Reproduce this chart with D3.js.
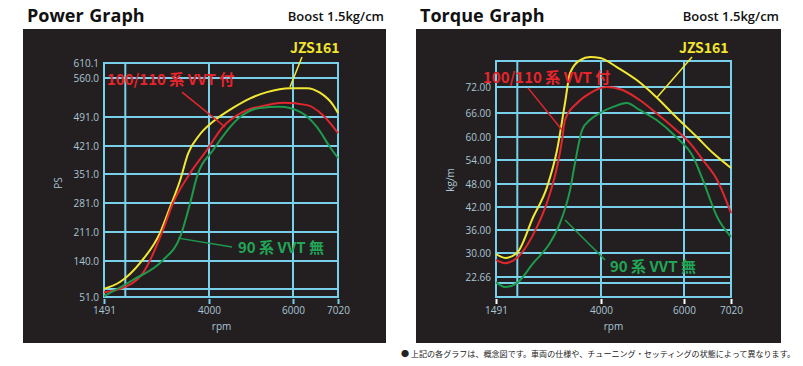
<!DOCTYPE html>
<html>
<head>
<meta charset="utf-8">
<script src="https://cdn.jsdelivr.net/npm/d3@7"></script>
<style>
  body { margin: 0; background: #fff; }
  svg { display: block; }
</style>
</head>
<body>
<div id="corpo"></div>
<script>
// ==== dados ====
var rpmTicks = [1491, 4000, 6000, 7020];
var rpmGrid = [2000, 4000, 6000];

var psTicks = [51.0, 140.0, 211.0, 281.0, 351.0, 421.0, 491.0, 560.0, 610.1];
var psExtraGrid = [71];
var kgTicks = [22.66, 30, 36, 42, 48, 54, 60, 66, 72];
var kgExtraGrid = [20.8];

// Power (PS)
var powerJzsRpm = [1491, 1870, 2350, 2830, 3070, 3310, 3500, 3790, 4100, 4570, 4980, 5380, 5930, 6320, 6610, 6910, 7020];
var powerJzs    = [71, 88, 135, 209, 271, 336, 402, 450, 480, 507, 524, 535, 542, 542, 534, 512, 498];
var powerVvtRpm = [1491, 1870, 2420, 2900, 3140, 3550, 3950, 4330, 4810, 5380, 5760, 6320, 6680, 7020];
var powerVvt    = [63, 71, 110, 216, 281, 353, 411, 467, 500, 512, 516, 512, 494, 452];
var powerNonRpm = [1491, 2180, 2900, 3310, 3550, 3710, 4100, 4740, 5210, 5690, 6160, 6540, 6840, 7020];
var powerNon    = [53, 93, 142, 199, 281, 344, 411, 491, 507, 509, 500, 467, 418, 391];

// Torque (kg/m)
var torqueJzsRpm = [1491, 1710, 1990, 2380, 2710, 2950, 3140, 3260, 3500, 3740, 3980, 4380, 4860, 5330, 5810, 6280, 6630, 7020];
var torqueJzs    = [29.7, 28.5, 30, 39.4, 47.2, 56.6, 68.3, 75.2, 78.2, 78.9, 78.7, 76.6, 73.6, 69.7, 65.0, 60, 55.8, 52];
var torqueVvtRpm = [1491, 1710, 1990, 2470, 2730, 2950, 3070, 3140, 3430, 3740, 4140, 4520, 4930, 5330, 5810, 6130, 6410, 6720, 7020];
var torqueVvt    = [27.9, 26.9, 28.5, 36.8, 43.8, 52.3, 59.2, 64.3, 68.3, 70.6, 72, 71.3, 69, 66, 61.75, 58.4, 54, 49, 40.4];
var torqueNonRpm = [1491, 1710, 1990, 2380, 2780, 3020, 3260, 3380, 3550, 3740, 3980, 4290, 4620, 4930, 5330, 5810, 6200, 6410, 6720, 7020];
var torqueNon    = [21.1, 19.6, 20.8, 26.9, 32.6, 37.8, 46.4, 53.3, 61.8, 64.3, 66, 67.4, 68.3, 66.7, 64.3, 60, 54.8, 49, 39.4, 34.2];

var seriesNames = ["JZS161", "100/110 系 VVT 付", "90 系 VVT 無"];

// ==== cores ====
var bg = "#231f20";
var gridColor = "#78d0ea";
var labelColor = "#aac5d4";
var lineColors = ["#f2e834", "#e1262d", "#1e9a4d"];
var textColors = ["#f3e62f", "#e8242c", "#21a556"];

var svg = d3.select("#corpo").append("svg")
    .attr("width", 803)
    .attr("height", 366);

function drawPanel(cfg) {
    var g = svg.append("g");

    g.append("rect")
        .attr("x", cfg.box[0]).attr("y", 29)
        .attr("width", cfg.box[1] - cfg.box[0]).attr("height", 314)
        .attr("fill", bg);

    // titulo
    g.append("text")
        .attr("x", cfg.box[0] + 4).attr("y", 22)
        .attr("font-family", "'Open Sans', sans-serif")
        .attr("font-weight", 700)
        .attr("font-size", 18)
        .attr("word-spacing", 1)
        .attr("fill", "#111")
        .text(cfg.title);

    g.append("text")
        .attr("x", cfg.box[1] - 2).attr("y", 21)
        .attr("text-anchor", "end")
        .attr("font-family", "'Open Sans', sans-serif")
        .attr("font-weight", 600)
        .attr("font-size", 13)
        .attr("fill", "#111")
        .text("Boost 1.5kg/cm");

    var x = d3.scaleLinear().domain(rpmTicks).range(cfg.xRange);
    var y = d3.scaleLinear().domain(cfg.yTicks).range(cfg.yRange);

    var left = cfg.xRange[0], right = cfg.xRange[3];

    // grade horizontal
    g.selectAll(".hgrid")
        .data(cfg.yTicks.concat(cfg.extraGrid))
        .enter().append("line")
        .attr("x1", left).attr("x2", right)
        .attr("y1", function(d) { return y(d); })
        .attr("y2", function(d) { return y(d); })
        .attr("stroke", gridColor).attr("stroke-width", 2);

    // grade vertical
    g.selectAll(".vgrid")
        .data(rpmGrid)
        .enter().append("line")
        .attr("x1", function(d) { return x(d); })
        .attr("x2", function(d) { return x(d); })
        .attr("y1", cfg.frame[0]).attr("y2", cfg.frame[1])
        .attr("stroke", gridColor).attr("stroke-width", 2);

    // moldura
    g.append("rect")
        .attr("x", left).attr("y", cfg.frame[0])
        .attr("width", right - left).attr("height", cfg.frame[1] - cfg.frame[0])
        .attr("fill", "none")
        .attr("stroke", gridColor).attr("stroke-width", 2);

    // eixo Y
    var yAxis = g.append("g")
        .attr("transform", "translate(" + (left - 5) + ",0)")
        .call(d3.axisLeft(y).tickValues(cfg.yTicks).tickFormat(d3.format(cfg.fmt)).tickSize(0).tickPadding(0));
    yAxis.select(".domain").remove();
    yAxis.selectAll("text")
        .attr("fill", labelColor)
        .attr("font-family", "'Open Sans', sans-serif")
        .attr("font-size", 10);

    // eixo X
    var xAxis = g.append("g")
        .attr("transform", "translate(0," + (cfg.frame[1] + 2) + ")")
        .call(d3.axisBottom(x).tickValues(rpmTicks).tickFormat(d3.format("d")).tickSize(5).tickPadding(3));
    xAxis.select(".domain").remove();
    xAxis.selectAll("line")
        .attr("stroke", cfg.tickColor).attr("stroke-width", 2);
    xAxis.selectAll("text")
        .attr("fill", labelColor)
        .attr("font-family", "'Open Sans', sans-serif")
        .attr("font-size", 10);

    g.append("text")
        .attr("x", x(4300)).attr("y", cfg.frame[1] + 33)
        .attr("text-anchor", "middle")
        .attr("font-family", "'Open Sans', sans-serif")
        .attr("font-size", 10)
        .attr("fill", labelColor)
        .text("rpm");

    g.append("text")
        .attr("transform", "translate(" + cfg.unitPos[0] + "," + cfg.unitPos[1] + ") rotate(-90)")
        .attr("text-anchor", "middle")
        .attr("font-family", "'Open Sans', sans-serif")
        .attr("font-size", 10)
        .attr("fill", labelColor)
        .text(cfg.unit);

    // linhas
    var line = d3.line()
        .x(function(d) { return x(d[0]); })
        .y(function(d) { return y(d[1]); })
        .curve(d3.curveMonotoneX);

    cfg.series.forEach(function(s, i) {
        var pts = s[0].map(function(r, k) { return [r, s[1][k]]; });
        g.append("path")
            .datum(pts)
            .attr("fill", "none")
            .attr("stroke", lineColors[i])
            .attr("stroke-width", 2)
            .attr("d", line);
    });

    // legendas
    cfg.notes.forEach(function(n, i) {
        g.append("line")
            .attr("x1", x(n.from[0])).attr("y1", y(n.from[1]))
            .attr("x2", x(n.to[0])).attr("y2", y(n.to[1]))
            .attr("stroke", lineColors[i]).attr("stroke-width", 1.5);
        g.append("text")
            .attr("x", x(n.at[0])).attr("y", y(n.at[1]))
            .attr("font-family", "'Noto Sans CJK JP', 'Noto Sans', sans-serif")
            .attr("font-weight", 700)
            .attr("font-size", n.size)
            .attr("fill", textColors[i])
            .text(seriesNames[i]);
    });
}

drawPanel({
    title: "Power Graph",
    box: [23, 386],
    xRange: [104, 209, 293, 338],
    yTicks: psTicks,
    yRange: [297, 261, 232, 203, 174, 146, 117, 78, 63],
    frame: [63, 297],
    extraGrid: psExtraGrid,
    fmt: ".1f",
    tickColor: gridColor,
    unit: "PS",
    unitPos: [62, 183],
    series: [[powerJzsRpm, powerJzs], [powerVvtRpm, powerVvt], [powerNonRpm, powerNon]],
    notes: [
        {at: [5929, 643.5], from: [6204, 630], to: [5929, 544], size: 14},
        {at: [1563, 547.6], from: [3355, 535], to: [4381, 467], size: 15},
        {at: [4690, 159.6], from: [4548, 174], to: [3260, 196], size: 15}
    ]
});

drawPanel({
    title: "Torque Graph",
    box: [416, 781],
    xRange: [496, 601, 684, 731],
    yTicks: kgTicks,
    yRange: [277, 253, 230, 207, 184, 160, 137, 113, 87],
    frame: [61, 297],
    extraGrid: kgExtraGrid,
    fmt: ".2f",
    tickColor: "#ffffff",
    unit: "kg/m",
    unitPos: [454, 180],
    series: [[torqueJzsRpm, torqueJzs], [torqueVvtRpm, torqueVvt], [torqueNonRpm, torqueNon]],
    notes: [
        {at: [5881, 79.8], from: [6174, 78.9], to: [5357, 69.7], size: 14},
        {at: [1180, 72.9], from: [2256, 71.8], to: [3068, 61.75], size: 15},
        {at: [4214, 24.2], from: [4095, 27.9], to: [3140, 38.6], size: 15}
    ]
});

// nota de rodape
svg.append("text")
    .attr("x", 401).attr("y", 357)
    .attr("font-family", "'Noto Sans CJK JP', sans-serif")
    .attr("font-size", 8)
    .attr("textLength", 394)
    .attr("lengthAdjust", "spacingAndGlyphs")
    .attr("fill", "#222")
    .text("● 上記の各グラフは、概念図です。車両の仕様や、チューニング・セッティングの状態によって異なります。");
</script>
</body>
</html>
